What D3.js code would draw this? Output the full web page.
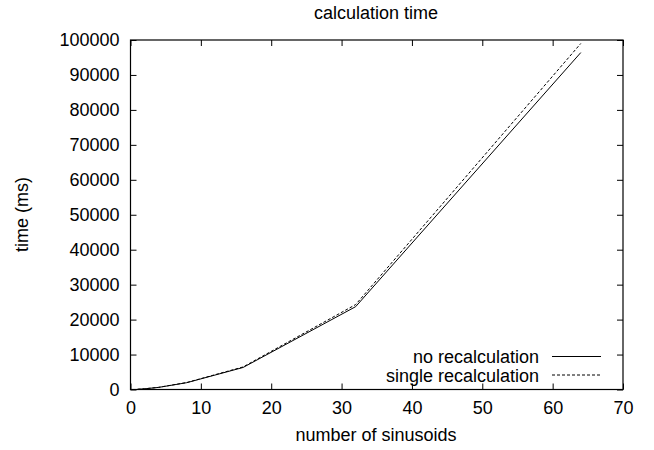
<!DOCTYPE html>
<html>
<head>
<meta charset="utf-8">
<script src="https://cdn.jsdelivr.net/npm/d3@7"></script>
<style>
  body { margin: 0; background: #fff; }
  text { font-family: "Liberation Sans", Arial, sans-serif; fill: #000; }
</style>
</head>
<body>
<div id="chart"></div>
<script>
const sinusoids = [1, 2, 4, 8, 16, 32, 64];
const noRecalc = [60, 200, 600, 1950, 6300, 23700, 96400];
const singleRecalc = [60, 210, 620, 2000, 6450, 24300, 99000];
const xTicks = [0, 10, 20, 30, 40, 50, 60, 70];
const yTicks = [0, 10000, 20000, 30000, 40000, 50000, 60000, 70000, 80000, 90000, 100000];

const width = 654;
const height = 450;
const margin = { top: 40, right: 31, bottom: 60.5, left: 130.5 };

const svg = d3
  .select("#chart")
  .append("svg")
  .attr("width", width)
  .attr("height", height);

const x = d3.scaleLinear().domain([0, 70]).range([margin.left, width - margin.right]);
const y = d3.scaleLinear().domain([0, 100000]).range([height - margin.bottom, margin.top]);

const tickLen = 6;
const fontSize = 18;
const fontFamily = "Liberation Sans, Arial, sans-serif";

// axes with inner ticks, mirrored on the opposite side
svg.append("g")
  .attr("transform", `translate(0, ${y(0)})`)
  .call(d3.axisBottom(x).tickValues(xTicks).tickSizeInner(-tickLen).tickSizeOuter(0).tickPadding(12))
  .call((g) => g.select(".domain").remove())
  .call((g) => g.selectAll("text").attr("font-size", fontSize).attr("font-family", fontFamily));

svg.append("g")
  .attr("transform", `translate(0, ${y(100000)})`)
  .call(d3.axisTop(x).tickValues(xTicks).tickSizeInner(-tickLen).tickSizeOuter(0).tickFormat(""))
  .call((g) => g.select(".domain").remove());

svg.append("g")
  .attr("transform", `translate(${x(0)}, 0)`)
  .call(d3.axisLeft(y).tickValues(yTicks).tickSizeInner(-tickLen).tickSizeOuter(0).tickPadding(11).tickFormat(d3.format("d")))
  .call((g) => g.select(".domain").remove())
  .call((g) => g.selectAll("text").attr("font-size", fontSize).attr("font-family", fontFamily));

svg.append("g")
  .attr("transform", `translate(${x(70)}, 0)`)
  .call(d3.axisRight(y).tickValues(yTicks).tickSizeInner(-tickLen).tickSizeOuter(0).tickFormat(""))
  .call((g) => g.select(".domain").remove());

svg.append("rect")
  .attr("x", x(0))
  .attr("y", y(100000))
  .attr("width", x(70) - x(0))
  .attr("height", y(0) - y(100000))
  .attr("fill", "none")
  .attr("stroke", "#000")
  .attr("stroke-width", 1.2);

const line = (vals) =>
  d3.line()
    .x((d, i) => x(sinusoids[i]))
    .y((d) => y(d))(vals);

svg.append("path")
  .attr("d", line(noRecalc))
  .attr("fill", "none")
  .attr("stroke", "#000")
  .attr("stroke-width", 1);

svg.append("path")
  .attr("d", line(singleRecalc))
  .attr("fill", "none")
  .attr("stroke", "#000")
  .attr("stroke-width", 1)
  .attr("stroke-dasharray", "3 2");

// title and labels
svg.append("text")
  .text("calculation time")
  .attr("x", 376)
  .attr("y", 19)
  .attr("text-anchor", "middle")
  .attr("font-size", fontSize);

svg.append("text")
  .text("number of sinusoids")
  .attr("x", 376)
  .attr("y", 441)
  .attr("text-anchor", "middle")
  .attr("font-size", fontSize);

svg.append("text")
  .text("time (ms)")
  .attr("transform", "translate(28, 214.5) rotate(-90)")
  .attr("text-anchor", "middle")
  .attr("font-size", fontSize);

// legend
const legend = [
  { label: "no recalculation", dash: null },
  { label: "single recalculation", dash: "3 2" },
];
legend.forEach((item, i) => {
  const ly = 356.5 + i * 18.5;
  svg.append("text")
    .text(item.label)
    .attr("x", 539)
    .attr("y", ly + 6.5)
    .attr("text-anchor", "end")
    .attr("font-size", fontSize);
  svg.append("line")
    .attr("x1", 552)
    .attr("x2", 601)
    .attr("y1", ly)
    .attr("y2", ly)
    .attr("stroke", "#000")
    .attr("stroke-width", 1)
    .attr("stroke-dasharray", item.dash);
});
</script>
</body>
</html>
